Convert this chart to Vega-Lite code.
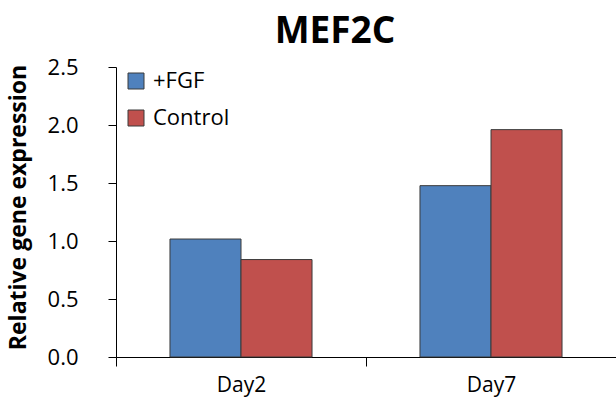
{
  "$schema": "https://vega.github.io/schema/vega-lite/v6.json",
  "autosize": "none",
  "width": 500,
  "height": 290,
  "padding": {"left": 116, "top": 67, "right": 0, "bottom": 55},
  "background": "white",
  "title": {
    "text": "MEF2C",
    "font": "Open Sans",
    "fontSize": 37,
    "fontWeight": "bold",
    "color": "#000000",
    "anchor": "middle",
    "baseline": "alphabetic",
    "dx": -31,
    "dy": 48,
    "offset": 24
  },
  "data": {
    "values": [
      {"day": "Day2", "group": "+FGF", "value": 1.017},
      {"day": "Day2", "group": "Control", "value": 0.84},
      {"day": "Day7", "group": "+FGF", "value": 1.477},
      {"day": "Day7", "group": "Control", "value": 1.96}
    ]
  },
  "mark": {"type": "bar", "stroke": "#3a3a3a", "strokeWidth": 1},
  "encoding": {
    "x": {
      "field": "day",
      "type": "nominal",
      "scale": {"paddingInner": 0, "paddingOuter": 0},
      "axis": {
        "title": null,
        "labelAngle": 0,
        "tickBand": "extent",
        "tickSize": 9,
        "labelPadding": 8,
        "labelFont": "Open Sans",
        "labelFontSize": 21,
        "labelColor": "#000000",
        "domainColor": "#000000",
        "tickColor": "#000000",
        "grid": false
      }
    },
    "xOffset": {
      "field": "group",
      "type": "nominal",
      "scale": {"domain": ["+FGF", "Control"], "paddingInner": 0, "paddingOuter": 0.76}
    },
    "y": {
      "field": "value",
      "type": "quantitative",
      "scale": {"domain": [0, 2.5], "nice": false},
      "axis": {
        "title": "Relative gene expression",
        "titleFont": "Open Sans",
        "titleFontSize": 23,
        "titleFontWeight": "bold",
        "titleColor": "#000000",
        "titleAngle": -90,
        "titleAlign": "center",
        "titleBaseline": "middle",
        "titleX": -98,
        "titleY": 140,
        "values": [0, 0.5, 1, 1.5, 2, 2.5],
        "format": ".1f",
        "tickSize": 8,
        "labelPadding": 30,
        "labelFont": "Open Sans",
        "labelFontSize": 22,
        "labelColor": "#000000",
        "domainColor": "#000000",
        "tickColor": "#000000",
        "grid": false
      }
    },
    "color": {
      "field": "group",
      "type": "nominal",
      "scale": {"domain": ["+FGF", "Control"], "range": ["#4F81BD", "#C0504D"]},
      "legend": {
        "title": null,
        "orient": "none",
        "legendX": 9,
        "legendY": 3,
        "symbolType": "square",
        "symbolSize": 256,
        "symbolStrokeColor": "#3a3a3a",
        "symbolStrokeWidth": 1,
        "symbolOpacity": 1,
        "labelFont": "Open Sans",
        "labelFontSize": 22,
        "labelColor": "#000000",
        "labelOffset": 6,
        "rowPadding": 15
      }
    }
  },
  "config": {"view": {"stroke": null}}
}
